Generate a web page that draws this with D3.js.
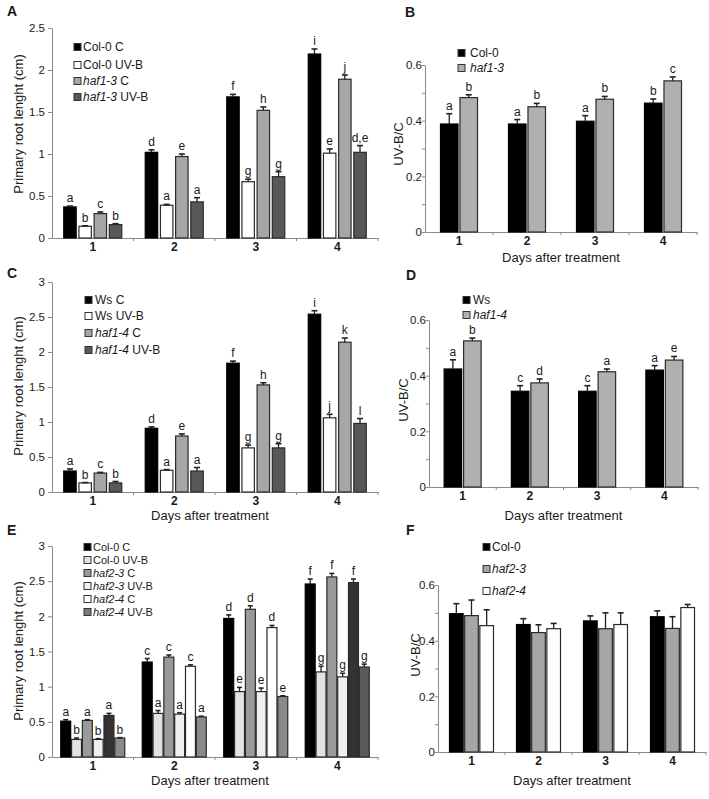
<!DOCTYPE html>
<html><head><meta charset="utf-8">
<script src="https://cdn.jsdelivr.net/npm/d3@7"></script>
<style>body{margin:0;background:#fff}svg{display:block;font-family:"Liberation Sans",Arial,sans-serif}</style>
</head><body><svg id="c" width="709" height="799"></svg>
<script>
const days = ["1","2","3","4"];
const rootTicks25 = [0,0.5,1,1.5,2,2.5];
const rootTicks3 = [0,0.5,1,1.5,2,2.5,3];
const ratioTicks = [0,0.1,0.2,0.3,0.4,0.5,0.6];
const ratioTickLabels = ["0","","0.2","","0.4","","0.6"];

// Panel A
const aSeries = ["Col-0 C","Col-0 UV-B","haf1-3 C","haf1-3 UV-B"];
const aValues = [[0.37,1.02,1.68,2.19],[0.14,0.39,0.67,1.01],[0.29,0.97,1.52,1.89],[0.16,0.43,0.73,1.02]];
const aErrors = [[0.01,0.03,0.03,0.06],[0.005,0.01,0.03,0.05],[0.02,0.03,0.04,0.05],[0.01,0.05,0.06,0.08]];
const aLetters = [["a","d","f","i"],["b","a","g","e"],["c","e","h","j"],["b","a","g","d,e"]];

// Panel B
const bSeries = ["Col-0","haf1-3"];
const bValues = [[0.388,0.388,0.398,0.463],[0.483,0.45,0.477,0.543]];
const bErrors = [[0.037,0.016,0.02,0.015],[0.01,0.012,0.01,0.014]];
const bLetters = [["a","a","a","b"],["b","b","b","c"]];

// Panel C
const cSeries = ["Ws C","Ws UV-B","haf1-4 C","haf1-4 UV-B"];
const cValues = [[0.30,0.91,1.84,2.54],[0.13,0.31,0.63,1.06],[0.27,0.80,1.53,2.14],[0.13,0.30,0.63,0.98]];
const cErrors = [[0.03,0.02,0.03,0.05],[0.005,0.01,0.04,0.05],[0.01,0.03,0.03,0.06],[0.02,0.05,0.06,0.07]];
const cLetters = [["a","d","f","i"],["b","a","g","j"],["c","e","h","k"],["b","a","g","l"]];

// Panel D
const dSeries = ["Ws","haf1-4"];
const dValues = [[0.424,0.344,0.344,0.42],[0.525,0.374,0.414,0.456]];
const dErrors = [[0.033,0.02,0.02,0.016],[0.01,0.014,0.01,0.013]];
const dLetters = [["a","c","c","a"],["b","d","a","e"]];

// Panel E
const eSeries = ["Col-0 C","Col-0 UV-B","haf2-3 C","haf2-3 UV-B","haf2-4 C","haf2-4 UV-B"];
const eValues = [[0.51,1.35,1.97,2.46],[0.25,0.62,0.93,1.21],[0.52,1.42,2.10,2.56],[0.25,0.61,0.93,1.14],[0.59,1.29,1.84,2.48],[0.27,0.57,0.86,1.28]];
const eErrors = [[0.02,0.05,0.05,0.07],[0.02,0.04,0.06,0.08],[0.01,0.03,0.05,0.05],[0.01,0.02,0.05,0.05],[0.03,0.02,0.03,0.05],[0.005,0.01,0.01,0.04]];
const eLetters = [["a","c","d","f"],["b","a","e","g"],["a","c","d","f"],["b","a","e","g"],["a","c","d","f"],["b","a","e","g"]];

// Panel F
const fSeries = ["Col-0","haf2-3","haf2-4"];
const fValues = [[0.497,0.458,0.471,0.486],[0.49,0.429,0.443,0.444],[0.454,0.443,0.458,0.519]];
const fErrors = [[0.036,0.021,0.018,0.021],[0.056,0.028,0.057,0.042],[0.057,0.019,0.042,0.011]];

const svg = d3.select("#c");
const AXIS = "#8a8a8a";
const INK = "#1a1a1a";

function fmtName(sel, name) {
  const m = name.match(/^(haf\S+)(.*)$/);
  if (m) {
    sel.append("tspan").attr("font-style","italic").text(m[1]);
    sel.append("tspan").text(m[2]);
  } else sel.text(name);
}

function drawPanel(p) {
  const g = svg.append("g");
  const x = d3.scaleBand().domain(days).range([p.x0, p.x1]);
  const y = d3.scaleLinear().domain([0, p.ymax]).range([p.yBase, p.yTop]);
  const inner = d3.scaleBand().domain(d3.range(p.series.length))
    .range([-p.group/2, p.group/2]).paddingInner(p.pad);

  // y axis
  const ya = g.append("g").attr("transform", `translate(${p.x0},0)`)
    .call(d3.axisLeft(y).tickValues(p.yTicks).tickSize(p.tickLen).tickSizeOuter(0)
      .tickPadding(p.tickPad).tickFormat((d,i) => p.yTickLabels[i]));
  ya.select(".domain").attr("stroke", AXIS);
  ya.selectAll(".tick line").attr("stroke", AXIS);
  ya.selectAll(".tick text").attr("font-size", 11.5).attr("font-family","Liberation Sans, Arial, sans-serif").attr("fill", INK);

  // x axis
  const xa = g.append("g").attr("transform", `translate(0,${p.yBase})`)
    .call(d3.axisBottom(x).tickSize(0).tickPadding(4).tickSizeOuter(0));
  xa.select(".domain").attr("stroke", AXIS);
  xa.selectAll(".tick text").attr("font-size", 12).attr("font-weight","bold").attr("font-family","Liberation Sans, Arial, sans-serif").attr("fill", INK);
  const bounds = days.slice(1).map(d => x(d)).concat([p.x1]);
  g.selectAll(".bt").data(bounds).join("line")
    .attr("x1", d => d).attr("x2", d => d).attr("y1", p.yBase).attr("y2", p.yBase + 3)
    .attr("stroke", AXIS);

  // bars
  p.series.forEach((s, si) => {
    days.forEach((d, di) => {
      const v = p.values[si][di], e = p.errors[si][di];
      const cx = x(d) + x.bandwidth()/2 + inner(si);
      const w = inner.bandwidth();
      let fill = p.fills[si];
      if (p.override && p.override[si] && p.override[si][di]) fill = p.override[si][di];
      g.append("rect").attr("x", cx).attr("y", y(v)).attr("width", w).attr("height", p.yBase - y(v))
        .attr("fill", fill).attr("stroke", fill === "#000" ? "#000" : "#2a2a2a").attr("stroke-width", 1.2);
      const mx = cx + w/2;
      g.append("line").attr("x1", mx).attr("x2", mx).attr("y1", y(v)).attr("y2", y(v+e))
        .attr("stroke", "#222").attr("stroke-width", 1.3);
      g.append("line").attr("x1", mx - p.capW/2).attr("x2", mx + p.capW/2).attr("y1", y(v+e)).attr("y2", y(v+e))
        .attr("stroke", "#222").attr("stroke-width", 1.6);
      if (p.letters) {
        g.append("text").attr("x", mx).attr("y", y(v+e) - 4).attr("text-anchor","middle")
          .attr("font-size", 12).attr("fill", INK).text(p.letters[si][di]);
      }
    });
  });

  // legend
  p.series.forEach((s, si) => {
    const ly = p.legendRows[si];
    g.append("rect").attr("x", p.legendX).attr("y", ly - 3.5).attr("width", 7).attr("height", 7)
      .attr("fill", p.legendFills ? p.legendFills[si] : p.fills[si])
      .attr("stroke", "#333").attr("stroke-width", 1);
    const t = g.append("text").attr("x", p.legendTextX).attr("y", ly).attr("dy","0.36em")
      .attr("font-size", p.legendFont || 12).attr("fill", INK);
    fmtName(t, s);
  });

  // titles
  g.append("text").attr("transform", `translate(${p.yTitleX},${p.yTitleY}) rotate(-90)`)
    .attr("text-anchor","middle").attr("font-size", 13).attr("fill", INK).text(p.yTitle);
  if (p.xTitle) {
    g.append("text").attr("x", p.xTitleX || (p.x0 + p.x1)/2).attr("y", p.xTitleY)
      .attr("text-anchor","middle").attr("font-size", 13).attr("fill", INK).text(p.xTitle);
  }
  g.append("text").attr("x", p.letterX).attr("y", p.letterY).attr("font-size", 14)
    .attr("font-weight","bold").attr("fill", INK).text(p.letter);
}

const rootTitle = "Primary root lenght (cm)";
const daysTitle = "Days after treatment";

drawPanel({letter:"A", letterX:7, letterY:16, x0:52, x1:378, yBase:238, yTop:28, ymax:2.5,
  yTicks:rootTicks25, yTickLabels:rootTicks25.map(String), tickLen:4, tickPad:3,
  series:aSeries, values:aValues, errors:aErrors, letters:aLetters,
  fills:["#000","#fff","#a6a6a6","#585858"], group:58, pad:0.18, capW:6,
  legendX:74, legendTextX:83, legendRows:[47,65,81,97],
  yTitle:rootTitle, yTitleX:23, yTitleY:124});

drawPanel({letter:"B", letterX:405, letterY:17, x0:425, x1:697, yBase:232, yTop:65, ymax:0.6,
  yTicks:ratioTicks, yTickLabels:ratioTickLabels, tickLen:3, tickPad:0,
  series:bSeries, values:bValues, errors:bErrors, letters:bLetters,
  fills:["#000","#b0b0b0"], group:37, pad:0.1, capW:6,
  legendX:458, legendTextX:470, legendRows:[53,68],
  yTitle:"UV-B/C", yTitleX:403, yTitleY:144, xTitle:daysTitle, xTitleY:262});

drawPanel({letter:"C", letterX:7, letterY:278, x0:52, x1:378, yBase:492, yTop:282, ymax:3,
  yTicks:rootTicks3, yTickLabels:rootTicks3.map(String), tickLen:4, tickPad:3,
  series:cSeries, values:cValues, errors:cErrors, letters:cLetters,
  fills:["#000","#fff","#a6a6a6","#585858"], group:58, pad:0.18, capW:6,
  legendX:85, legendTextX:95, legendRows:[300,316,333,350],
  yTitle:rootTitle, yTitleX:23, yTitleY:386, xTitle:daysTitle, xTitleX:210, xTitleY:520});

drawPanel({letter:"D", letterX:406, letterY:280, x0:429, x1:698, yBase:487, yTop:320, ymax:0.6,
  yTicks:ratioTicks, yTickLabels:ratioTickLabels, tickLen:3, tickPad:0,
  series:dSeries, values:dValues, errors:dErrors, letters:dLetters,
  fills:["#000","#b0b0b0"], group:37, pad:0.1, capW:6,
  legendX:463, legendTextX:473, legendRows:[300,315],
  yTitle:"UV-B/C", yTitleX:408, yTitleY:400, xTitle:daysTitle, xTitleY:520});

drawPanel({letter:"E", letterX:7, letterY:535, x0:52, x1:378, yBase:757, yTop:546, ymax:3,
  yTicks:rootTicks3, yTickLabels:rootTicks3.map(String), tickLen:4, tickPad:3,
  series:eSeries, values:eValues, errors:eErrors, letters:eLetters,
  fills:["#000","#e2e2e2","#9a9a9a","#efefef","#fff","#8a8a8a"],
  legendFills:["#000","#e2e2e2","#9a9a9a","#efefef","#fff","#7a7a7a"],
  override:{4:{0:"#333",3:"#333"},5:{3:"#5a5a5a"}},
  group:64, pad:0.08, capW:5,
  legendX:84, legendTextX:93, legendRows:[547,560,573,586,599,612], legendFont:11,
  yTitle:rootTitle, yTitleX:23, yTitleY:651, xTitle:daysTitle, xTitleX:210, xTitleY:785});

drawPanel({letter:"F", letterX:406, letterY:535, x0:438, x1:706, yBase:752, yTop:585, ymax:0.6,
  yTicks:ratioTicks, yTickLabels:ratioTickLabels, tickLen:3, tickPad:0,
  series:fSeries, values:fValues, errors:fErrors, letters:null,
  fills:["#000","#a6a6a6","#fff"], group:44, pad:0.1, capW:6,
  legendX:483, legendTextX:492, legendRows:[547,569,591],
  yTitle:"UV-B/C", yTitleX:420, yTitleY:655, xTitle:daysTitle, xTitleY:785});
</script></body></html>
